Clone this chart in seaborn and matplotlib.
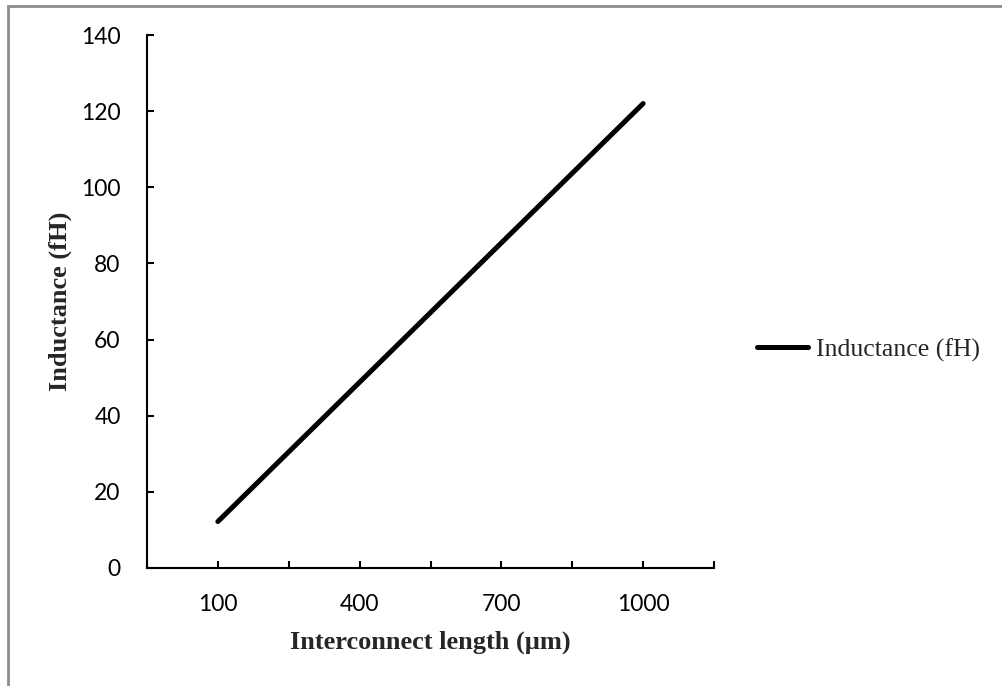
import matplotlib
matplotlib.use("Agg")
import matplotlib.pyplot as plt
import seaborn as sns
import pandas as pd

# data
length_um = [100, 400, 700, 1000]
inductance_fh = [12.2, 48.8, 85.4, 122.0]
series_name = "Inductance (fH)"
x_title = "Interconnect length (\u00b5m)"
y_title = "Inductance (fH)"
x_major = [100, 400, 700, 1000]
x_minor = [-50, 250, 550, 850, 1150]
y_ticks = [0, 20, 40, 60, 80, 100, 120, 140]

df = pd.DataFrame({"length": length_um, "value": inductance_fh})

sns.set_theme(style="ticks")
plt.rcParams['font.family'] = ['Lato', 'DejaVu Sans']

W, H = 1002, 686
fig = plt.figure(figsize=(W / 100, H / 100), dpi=100)
ax = fig.add_axes([147 / W, 1 - 568 / H, (714 - 147) / W, (568 - 35) / H])

sns.lineplot(data=df, x="length", y="value", ax=ax, color="black",
             linewidth=3.6, solid_capstyle="round", label=series_name)

ax.set_xlim(-50, 1150)
ax.set_ylim(0, 140)
ax.set_xticks(x_major)
ax.set_xticks(x_minor, minor=True)
ax.set_yticks(y_ticks)
sns.despine(ax=ax)
for side in ["left", "bottom"]:
    ax.spines[side].set_linewidth(1.5)
    ax.spines[side].set_color("black")

ax.tick_params(axis="both", which="both", direction="in", length=5, width=1.5,
               color="black", labelsize=16.5, labelcolor="black")
ax.tick_params(axis="y", pad=19)
ax.tick_params(axis="x", pad=19)

serif_bold = dict(family="Liberation Serif", weight="bold", size=19)
ax.set_xlabel(x_title, **serif_bold)
ax.set_ylabel(y_title, **serif_bold)
ax.xaxis.set_label_coords(0.5, (568 - 642) / 533)
ax.xaxis.label.set_va("center")
ax.yaxis.set_label_coords((60 - 147) / 567, 0.5)
ax.yaxis.label.set_va("center")

ax.legend(loc="center left", bbox_to_anchor=(757 / W, 1 - 350 / H),
          bbox_transform=fig.transFigure, frameon=False, borderpad=0,
          borderaxespad=0, handlelength=2.0, handletextpad=0.3,
          prop=dict(family="Liberation Serif", size=18.5))

# outer chart-area border (only the left and top edges show in the crop)
fig.add_artist(plt.Rectangle((8 / W, -0.1), 1.2, (1 - 6 / H) + 0.1,
                             transform=fig.transFigure, fill=False,
                             edgecolor="#8c8c8c", linewidth=2, clip_on=False))

fig.savefig("out.png", dpi=100, facecolor="white")
